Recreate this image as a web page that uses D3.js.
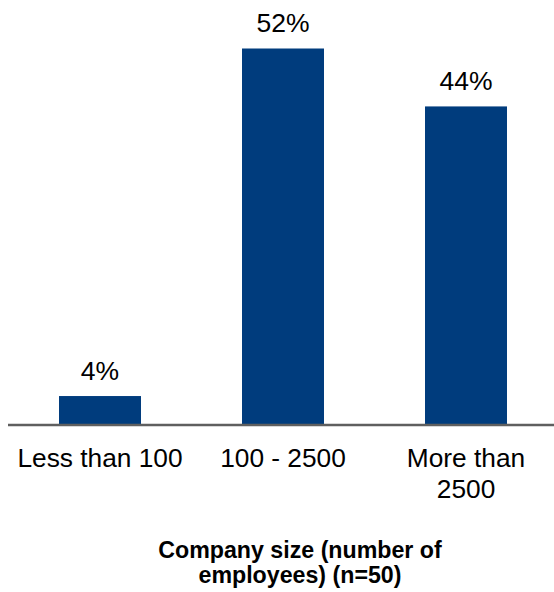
<!DOCTYPE html>
<html><head><meta charset="utf-8">
<script src="https://cdn.jsdelivr.net/npm/d3@7"></script>
<style>body{margin:0;background:#fff}svg{display:block}text{font-family:"Liberation Sans",Arial,sans-serif;fill:#000}</style>
</head><body>
<svg id="c" width="554" height="592"></svg>
<script>
const categories = [["Less than 100"], ["100 - 2500"], ["More than", "2500"]];
const values = [4, 52, 44];
const valueLabels = ["4%", "52%", "44%"];
const axisTitle = ["Company size (number of", "employees) (n=50)"];

const svg = d3.select("#c");
const keys = categories.map(c => c.join(" "));
const x = d3.scaleBand().domain(keys).range([8.5, 557.5]).paddingInner(0.552).paddingOuter(0.276);
const y = d3.scaleLinear().domain([0, 52]).range([425, 48.5]);

svg.selectAll("rect.bar").data(values).join("rect").attr("class","bar")
  .attr("x", (d,i) => x(keys[i])).attr("width", x.bandwidth())
  .attr("y", d => y(d)).attr("height", d => y(0) - y(d)).attr("fill", "#003c7d");

svg.selectAll("text.val").data(values).join("text").attr("class","val")
  .attr("x", (d,i) => x(keys[i]) + x.bandwidth()/2).attr("y", d => y(d) - 16.5)
  .attr("text-anchor","middle").style("font-size","26.5px").text((d,i) => valueLabels[i]);

const axis = d3.axisBottom(x).tickSize(0).tickFormat("");
const g = svg.append("g").attr("transform", `translate(0,${y(0)})`).call(axis);
g.select(".domain").attr("d", "M8,0H554").attr("stroke", "#5f5f5f").attr("stroke-width", 2.5);
g.selectAll(".tick").each(function(d, i) {
  const t = d3.select(this).append("text").attr("text-anchor","middle").style("font-size","26.3px").attr("fill","#000");
  categories[i].forEach((line, j) => t.append("tspan").attr("x", 0).attr("y", 41.5 + j*31).text(line));
});

const tt = svg.append("text").attr("text-anchor","middle").style("font-size","23.2px").style("font-weight","bold");
axisTitle.forEach((line, j) => tt.append("tspan").attr("x", 300).attr("y", 557.5 + j*25).text(line));
</script>
</body></html>
